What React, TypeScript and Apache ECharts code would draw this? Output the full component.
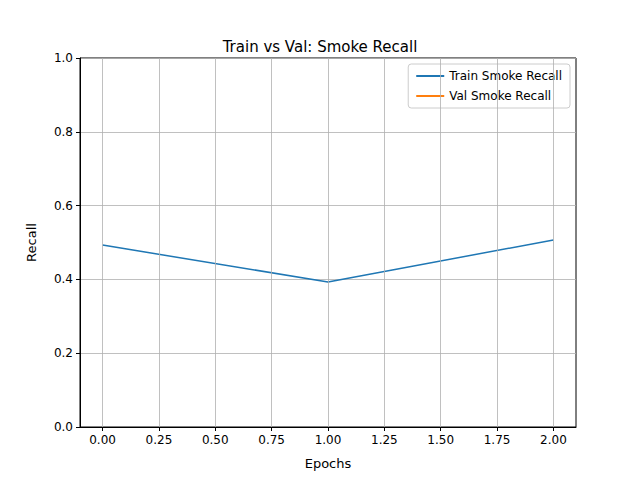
import React, { useEffect, useRef } from "react";
import * as echarts from "echarts";

const epochs = [0, 1, 2];
const trainRecall = [0.493, 0.393, 0.507];
const valRecall: number[] = [];
const xTicks = [0, 0.25, 0.5, 0.75, 1.0, 1.25, 1.5, 1.75, 2.0];

export default function App() {
  const ref = useRef<HTMLDivElement>(null);
  useEffect(() => {
    const chart = echarts.init(ref.current!, null, { renderer: "svg" });
    const font = "DejaVu Sans";
    chart.setOption({
      animation: false,
      textStyle: { fontFamily: font },
      title: { text: "Train vs Val: Smoke Recall", left: "center", top: 34, textStyle: { fontFamily: font, fontSize: 15, fontWeight: "normal", color: "#000" } },
      legend: {
        right: 70, top: 64, orient: "vertical", itemWidth: 28, itemHeight: 2, itemGap: 8,
        borderColor: "#ccc", borderWidth: 1, borderRadius: 3, padding: [6, 8],
        textStyle: { fontFamily: font, fontSize: 12, color: "#000" },
        icon: "rect",
        data: ["Train Smoke Recall", "Val Smoke Recall"],
      },
      grid: { left: 80, right: 64, top: 58, bottom: 53, show: true, borderColor: "#000", borderWidth: 1, backgroundColor: "transparent" },
      xAxis: {
        type: "value", min: -0.1, max: 2.1,
        name: "Epochs", nameLocation: "middle", nameGap: 30, nameTextStyle: { fontFamily: font, fontSize: 13, color: "#000" },
        axisLine: { onZero: false, lineStyle: { color: "#000" } },
        axisTick: { show: true, customValues: xTicks, length: 4, lineStyle: { color: "#000" } },
        axisLabel: { customValues: xTicks, formatter: (v: number) => v.toFixed(2), color: "#000", fontSize: 12, fontFamily: font, margin: 7 },
        splitLine: { show: false },
      },
      yAxis: {
        type: "value", min: 0, max: 1, interval: 0.2,
        name: "Recall", nameLocation: "middle", nameGap: 42, nameTextStyle: { fontFamily: font, fontSize: 13, color: "#000" },
        axisLine: { show: true, onZero: false, lineStyle: { color: "#000" } },
        axisTick: { show: true, length: 4, lineStyle: { color: "#000" } },
        axisLabel: { formatter: (v: number) => v.toFixed(1), color: "#000", fontSize: 12, fontFamily: font, margin: 7 },
        splitLine: { show: true, lineStyle: { color: "#b0b0b0", width: 0.8 } },
      },
      series: [
        {
          name: "Train Smoke Recall", type: "line", showSymbol: false, symbol: "none",
          data: epochs.map((e, i) => [e, trainRecall[i]]),
          lineStyle: { color: "#1f77b4", width: 1.5 }, itemStyle: { color: "#1f77b4" },
          markLine: {
            silent: true, symbol: "none", label: { show: false },
            lineStyle: { color: "#b0b0b0", width: 0.8, type: "solid" },
            data: xTicks.map((t) => ({ xAxis: t })),
          },
          z: 3,
        },
        {
          name: "Val Smoke Recall", type: "line", showSymbol: false, symbol: "none",
          data: valRecall.map((v, i) => [epochs[i], v]),
          lineStyle: { color: "#ff7f0e", width: 1.5 }, itemStyle: { color: "#ff7f0e" },
        },
      ],
    });
    return () => chart.dispose();
  }, []);
  return <div ref={ref} style={{ width: 640, height: 480, margin: -8 }} />;
}
